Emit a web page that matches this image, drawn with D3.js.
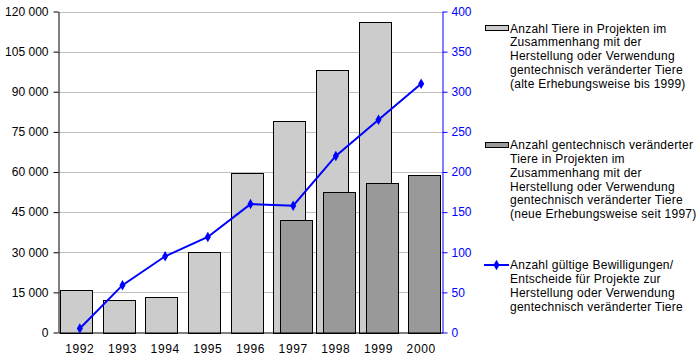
<!DOCTYPE html>
<html><head><meta charset="utf-8">
<script src="https://cdn.jsdelivr.net/npm/d3@7"></script>
<style>
html,body{margin:0;padding:0;background:#fff;}
svg text{font-family:"Liberation Sans",Arial,sans-serif;font-size:12px;}
</style></head>
<body><svg id="c" width="699" height="362"></svg>
<script>
const categories = ["1992","1993","1994","1995","1996","1997","1998","1999","2000"];
const animalsOld = [16000, 12300, 13100, 30000, 59800, 79200, 98200, 116200, null];
const animalsNew = [null, null, null, null, null, 42200, 52700, 56000, 59000];
const permits = [5, 59, 95, 119, 160, 158, 220, 265, 310];
const leftTicks = [0, 15000, 30000, 45000, 60000, 75000, 90000, 105000, 120000];
const rightTicks = [0, 50, 100, 150, 200, 250, 300, 350, 400];
const legendOld = ["Anzahl Tiere in Projekten im","Zusammenhang mit der","Herstellung oder Verwendung","gentechnisch veränderter Tiere","(alte Erhebungsweise bis 1999)"];
const legendNew = ["Anzahl gentechnisch veränderter","Tiere in Projekten im","Zusammenhang mit der","Herstellung oder Verwendung","gentechnisch veränderter Tiere","(neue Erhebungsweise seit 1997)"];
const legendLine = ["Anzahl gültige Bewilligungen/","Entscheide für Projekte zur","Herstellung oder Verwendung","gentechnisch veränderter Tiere"];

const svg = d3.select("#c");
const L = 58.5, R = 442.5, T = 11.5, B = 332.5;
const x = d3.scaleBand().domain(categories).range([L, R]).padding(0);
const yL = d3.scaleLinear().domain([0, 120000]).range([B, T]);
const yR = d3.scaleLinear().domain([0, 400]).range([B, T]);
const fmt = v => d3.format(",")(v).replace(/,/g, " ");
const blue = "#0000ff";

// gridlines
svg.append("g").selectAll("line").data(leftTicks.filter(d => d > 0)).join("line")
  .attr("x1", L).attr("x2", R)
  .attr("y1", d => Math.round(yL(d)) + 0.5).attr("y2", d => Math.round(yL(d)) + 0.5)
  .attr("stroke", "#c0c0c0").attr("stroke-width", 1);

const bw = x.bandwidth();
const barW = bw * 0.75;
// old bars
svg.append("g").selectAll("rect").data(categories.map((c, i) => ({c, v: animalsOld[i]})).filter(d => d.v != null)).join("rect")
  .attr("x", d => Math.round(x(d.c) + bw * 0.035) + 0.5)
  .attr("y", d => Math.round(yL(d.v)) + 0.5)
  .attr("width", Math.round(barW))
  .attr("height", d => Math.round(yL(0)) - Math.round(yL(d.v)))
  .attr("fill", "#cccccc").attr("stroke", "#000").attr("stroke-width", 1);
// new bars
svg.append("g").selectAll("rect").data(categories.map((c, i) => ({c, v: animalsNew[i]})).filter(d => d.v != null)).join("rect")
  .attr("x", d => Math.round(x(d.c) + bw * 0.2) + 0.5)
  .attr("y", d => Math.round(yL(d.v)) + 0.5)
  .attr("width", Math.round(barW))
  .attr("height", d => Math.round(yL(0)) - Math.round(yL(d.v)))
  .attr("fill", "#999999").attr("stroke", "#000").attr("stroke-width", 1);

// left axis
const gL = svg.append("g").attr("transform", `translate(${L},0)`)
  .call(d3.axisLeft(yL).tickValues(leftTicks).tickFormat(fmt).tickSize(5).tickSizeOuter(0));
gL.select(".domain").attr("stroke", "#000");
gL.selectAll(".tick line").attr("stroke", "#000");
gL.selectAll(".tick text").attr("fill", "#000").attr("x", -10).style("font-size", "12px").style("font-family", "Liberation Sans, Arial, sans-serif");

// right axis
const gR = svg.append("g").attr("transform", `translate(${R},0)`)
  .call(d3.axisRight(yR).tickValues(rightTicks).tickSize(5).tickSizeOuter(0));
gR.select(".domain").attr("stroke", blue);
gR.selectAll(".tick line").attr("stroke", blue);
gR.selectAll(".tick text").attr("fill", blue).attr("x", 9).style("font-size", "12px").style("font-family", "Liberation Sans, Arial, sans-serif");

// bottom axis
const gB = svg.append("g").attr("transform", `translate(0,${B})`)
  .call(d3.axisBottom(x).tickSize(0).tickSizeOuter(0));
gB.select(".domain").attr("stroke", "#000");
gB.selectAll(".tick text").attr("fill", "#000").attr("dy", 0).attr("y", 20).style("letter-spacing", "0.6px").style("font-size", "12px").style("font-family", "Liberation Sans, Arial, sans-serif");

// line
const pts = categories.map((c, i) => [x(c) + bw / 2, yR(permits[i])]);
svg.append("path").attr("d", d3.line()(pts)).attr("fill", "none").attr("stroke", blue).attr("stroke-width", 2);
svg.append("g").selectAll("path").data(pts).join("path")
  .attr("transform", d => `translate(${d[0]},${d[1]})`)
  .attr("d", d3.symbol(d3.symbolDiamond, 32)).attr("fill", blue);

// legend
const lx = 510, lh = 13.8;
function legendText(lines, y0) {
  const t = svg.append("text").attr("x", lx).attr("y", y0).attr("fill", "#000").style("letter-spacing", "0.25px");
  lines.forEach((s, i) => t.append("tspan").attr("x", lx).attr("y", y0 + i * lh).attr("dy", "0.35em").text(s));
}
svg.append("rect").attr("x", 485.5).attr("y", 25.5).attr("width", 23).attr("height", 5).attr("fill", "#cccccc").attr("stroke", "#000");
legendText(legendOld, 28.3);
svg.append("rect").attr("x", 485.5).attr("y", 142.5).attr("width", 23).attr("height", 5).attr("fill", "#999999").attr("stroke", "#000");
legendText(legendNew, 145);
svg.append("line").attr("x1", 484).attr("x2", 509).attr("y1", 265).attr("y2", 265).attr("stroke", blue).attr("stroke-width", 2);
svg.append("path").attr("transform", "translate(496.5,265)").attr("d", d3.symbol(d3.symbolDiamond, 32)).attr("fill", blue);
legendText(legendLine, 265);
</script></body></html>
